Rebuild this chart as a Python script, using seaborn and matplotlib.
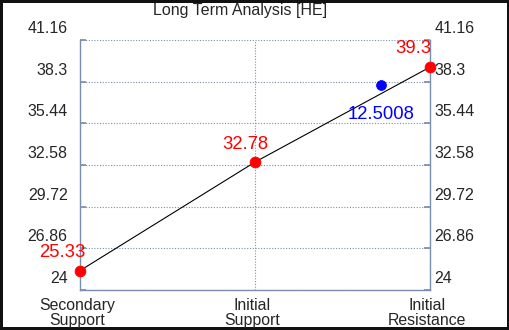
import matplotlib
matplotlib.use("Agg")
import matplotlib.pyplot as plt
import matplotlib.transforms as mtransforms
import seaborn as sns
import pandas as pd

categories = ["Secondary\nSupport", "Initial\nSupport", "Initial\nResistance"]
levels = [25.33, 32.78, 39.3]
level_labels = ["25.33", "32.78", "39.3"]
current_x = [1.72]
current_y = [38.07]
current_label = "12.5008"
yticks = [24, 26.86, 29.72, 32.58, 35.44, 38.3, 41.16]
ytick_labels = ["24", "26.86", "29.72", "32.58", "35.44", "38.3", "41.16"]
title = "Long Term Analysis [HE]"

sns.set_theme(style="white")
plt.rcParams['font.family'] = ['Liberation Sans', 'DejaVu Sans']

df = pd.DataFrame({"x": range(len(categories)), "y": levels})
cur = pd.DataFrame({"x": current_x, "y": current_y})

fig = plt.figure(figsize=(5.1, 3.3), dpi=100, edgecolor="#111111", linewidth=4)
ax = fig.add_axes([80/510, 40/330, 350/510, 250/330])

grid_c = "#7a8fae"
sns.lineplot(data=df, x="x", y="y", ax=ax, color="black", linewidth=0.8)
sns.scatterplot(data=df, x="x", y="y", ax=ax, color="red", s=60, edgecolor="red", zorder=5, clip_on=False)
sns.scatterplot(data=cur, x="x", y="y", ax=ax, color="blue", s=50, edgecolor="blue", zorder=5, clip_on=False)

ax.set_xlim(0, 2)
ax.set_ylim(yticks[0], yticks[-1])
ax.set_xticks(range(len(categories)))
ax.set_xticklabels(categories, fontsize=11.4, linespacing=0.95)
ax.set_yticks(yticks)
ax.set_yticklabels(ytick_labels, fontsize=11.5)
ax.tick_params(axis="y", which="both", left=True, right=True, labelleft=True, labelright=True,
               direction="in", length=4, color=grid_c, pad=6)
ax.tick_params(axis="x", length=0, pad=6)
px = 1/100
for t in ax.yaxis.get_major_ticks():
    t.label1.set_transform(t.label1.get_transform() + mtransforms.ScaledTranslation(-4*px, 13*px, fig.dpi_scale_trans))
    t.label2.set_transform(t.label2.get_transform() + mtransforms.ScaledTranslation(-4*px, 13*px, fig.dpi_scale_trans))
    t.label2.set_fontsize(11.5)
for t in ax.xaxis.get_major_ticks():
    t.label1.set_transform(t.label1.get_transform() + mtransforms.ScaledTranslation(-3*px, 0, fig.dpi_scale_trans))

ax.grid(True, color=grid_c, linestyle=(0, (1, 1.5)), linewidth=0.8)
ax.set_axisbelow(True)
for s in ["left", "right", "bottom"]:
    ax.spines[s].set_color(grid_c)
    ax.spines[s].set_linewidth(1)
ax.spines["top"].set_visible(False)
ax.set_xlabel("")
ax.set_ylabel("")

offsets = [(-13, 10), (-7, 9.5), (-12, 10)]
for i, (v, lab) in enumerate(zip(levels, level_labels)):
    ax.annotate(lab, (i, v), xytext=offsets[i], textcoords="offset points",
                color="red", fontsize=13.3, ha="center", va="baseline")
ax.annotate(current_label, (current_x[0], current_y[0]), xytext=(0, -24.5), textcoords="offset points",
            color="blue", fontsize=13.3, ha="center", va="baseline")

fig.text(240/510, 1 - 10/330, title, ha="center", va="center", fontsize=11.5)

fig.savefig("out.png", dpi=100, edgecolor=fig.get_edgecolor())
